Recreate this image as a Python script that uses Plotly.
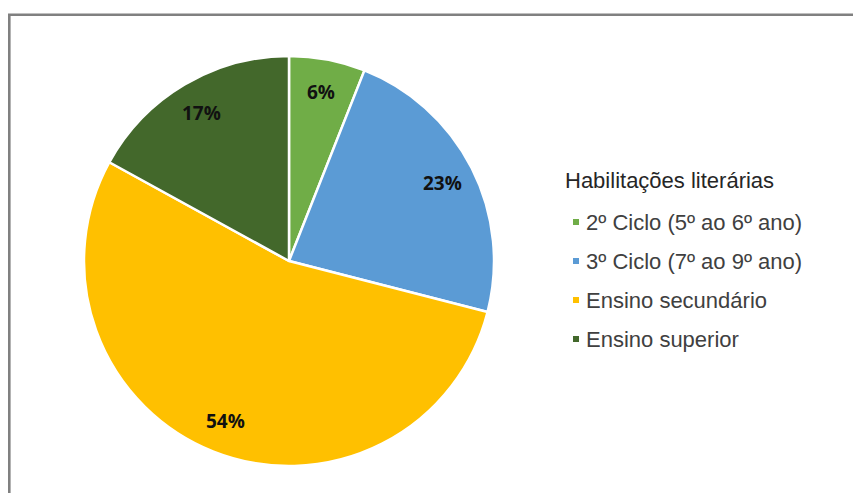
import math
import plotly.graph_objects as go

labels = ["2º Ciclo (5º ao 6º ano)", "3º Ciclo (7º ao 9º ano)", "Ensino secundário", "Ensino superior"]
values = [6, 23, 54, 17]
colors = ["#70AD47", "#5B9BD5", "#FFC000", "#43682B"]
legend_title = "Habilitações literárias"

W, H = 853, 493
cx, cy, R = 289, 261, 205

fig = go.Figure()
fig.add_trace(go.Pie(
    labels=labels, values=values, sort=False, direction="clockwise", rotation=0,
    marker=dict(colors=colors, line=dict(color="white", width=2.5)),
    textinfo="none", hoverinfo="label+percent", showlegend=False,
    domain=dict(x=[(cx - R) / W, (cx + R) / W], y=[1 - (cy + R) / H, 1 - (cy - R) / H]),
))

annotations = []
total = sum(values)
cum = 0
for v in values:
    mid = (cum + v / 2) / total * 2 * math.pi
    cum += v
    r = 0.84 * R
    px = cx + r * math.sin(mid)
    py = cy - r * math.cos(mid)
    annotations.append(dict(
        x=px / W, y=1 - py / H, xref="paper", yref="paper", showarrow=False,
        xanchor="center", yanchor="middle",
        text=f"<b>{round(v / total * 100)}%</b>",
        font=dict(family="Open Sans", size=19, color="#111111"),
    ))

# manual legend
annotations.append(dict(x=563 / W, y=1 - 180 / H, xref="paper", yref="paper", showarrow=False,
                        xanchor="left", yanchor="middle", text=legend_title,
                        font=dict(family="Liberation Sans, Arial", size=22, color="#262626")))
shapes = []
for i, (lab, col) in enumerate(zip(labels, colors)):
    y = 222 + i * 39
    annotations.append(dict(x=584 / W, y=1 - y / H, xref="paper", yref="paper", showarrow=False,
                            xanchor="left", yanchor="middle", text=lab,
                            font=dict(family="Liberation Sans, Arial", size=22, color="#404040")))
    shapes.append(dict(type="rect", xref="paper", yref="paper",
                       x0=573 / W, x1=579 / W, y0=1 - (y + 3) / H, y1=1 - (y - 3) / H,
                       fillcolor=col, line=dict(width=0)))

# outer frame
shapes.append(dict(type="rect", xref="paper", yref="paper",
                   x0=9.3 / W, x1=1.2, y0=-0.2, y1=1 - 14.8 / H,
                   line=dict(color="#808080", width=2.6), fillcolor="rgba(0,0,0,0)"))

fig.update_layout(
    width=W, height=H, margin=dict(l=0, r=0, t=0, b=0),
    paper_bgcolor="white", plot_bgcolor="white",
    annotations=annotations, shapes=shapes, showlegend=False,
)
fig.write_html("out.html", config={"displayModeBar": False},
               post_script="document.body.style.margin='0';")
